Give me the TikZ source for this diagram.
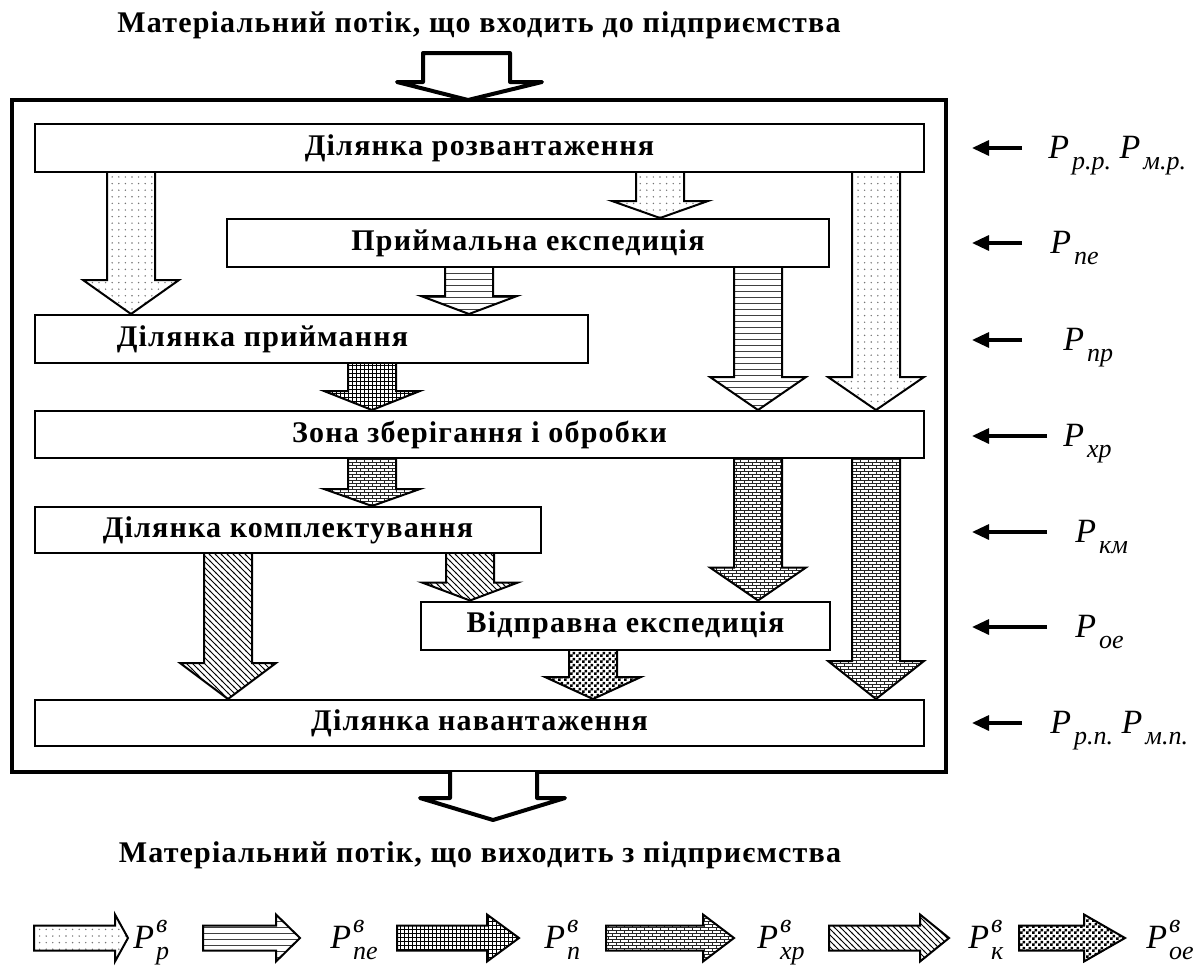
\documentclass[tikz,border=0pt]{standalone}
\usepackage{fontspec}
\setmainfont{Liberation Serif}
\newfontfamily\boxfont[LetterSpace=4]{Liberation Serif}
\usetikzlibrary{arrows.meta, calc, patterns}

% fill patterns of the flows
\pgfdeclarepatternformonly{flowdots}{\pgfpoint{-1pt}{-1pt}}{\pgfpoint{1pt}{1pt}}{\pgfpoint{3.3pt}{3.3pt}}{%
  \pgfpathcircle{\pgfpointorigin}{0.4pt}\pgfusepath{fill}}
\pgfdeclarepatternformonly{flowlines}{\pgfpoint{-1pt}{-0.5pt}}{\pgfpoint{4pt}{0.5pt}}{\pgfpoint{3pt}{3pt}}{%
  \pgfsetlinewidth{0.4pt}
  \pgfpathmoveto{\pgfpoint{-1pt}{0pt}}\pgfpathlineto{\pgfpoint{4pt}{0pt}}\pgfusepath{stroke}}
\pgfdeclarepatternformonly{flowgrid}{\pgfpoint{-1pt}{-1pt}}{\pgfpoint{3pt}{3pt}}{\pgfpoint{2pt}{2pt}}{%
  \pgfsetlinewidth{0.35pt}
  \pgfpathmoveto{\pgfpoint{0pt}{-1pt}}\pgfpathlineto{\pgfpoint{0pt}{3pt}}
  \pgfpathmoveto{\pgfpoint{-1pt}{0pt}}\pgfpathlineto{\pgfpoint{3pt}{0pt}}\pgfusepath{stroke}}
\pgfdeclarepatternformonly{flowbricks}{\pgfpoint{-0.5pt}{-0.5pt}}{\pgfpoint{4.5pt}{3.5pt}}{\pgfpoint{4pt}{3pt}}{%
  \pgfsetlinewidth{0.35pt}
  \pgfpathmoveto{\pgfpoint{-0.5pt}{0pt}}\pgfpathlineto{\pgfpoint{4.5pt}{0pt}}
  \pgfpathmoveto{\pgfpoint{-0.5pt}{1.5pt}}\pgfpathlineto{\pgfpoint{4.5pt}{1.5pt}}
  \pgfpathmoveto{\pgfpoint{0pt}{0pt}}\pgfpathlineto{\pgfpoint{0pt}{1.5pt}}
  \pgfpathmoveto{\pgfpoint{2pt}{1.5pt}}\pgfpathlineto{\pgfpoint{2pt}{3pt}}\pgfusepath{stroke}}
\pgfdeclarepatternformonly{flowdiag}{\pgfpoint{-0.5pt}{-0.5pt}}{\pgfpoint{3.5pt}{3.5pt}}{\pgfpoint{3pt}{3pt}}{%
  \pgfsetlinewidth{0.5pt}
  \pgfpathmoveto{\pgfpoint{-0.5pt}{3.5pt}}\pgfpathlineto{\pgfpoint{3.5pt}{-0.5pt}}\pgfusepath{stroke}}
\pgfdeclarepatternformonly{flowcheck}{\pgfpointorigin}{\pgfpoint{3pt}{3pt}}{\pgfpoint{3pt}{3pt}}{%
  \pgfpathrectangle{\pgfpointorigin}{\pgfpoint{1.5pt}{1.5pt}}
  \pgfpathrectangle{\pgfpoint{1.5pt}{1.5pt}}{\pgfpoint{1.5pt}{1.5pt}}\pgfusepath{fill}}

\tikzset{
  stage/.style={rectangle, draw, line width=1pt, minimum height=24pt, inner sep=0pt,
                font=\boxfont\bfseries\fontsize{15}{17}\selectfont},
  heading/.style={inner sep=0pt, font=\boxfont\bfseries\fontsize{15}{17}\selectfont},
  plant/.style={line width=2pt},
  bigflow/.style={draw, line width=2pt, fill=white, line join=round},
  flow/.style={draw, line width=1pt, line join=miter},
  fdots/.style={pattern=flowdots, pattern color=black!55},
  flines/.style={pattern=flowlines, pattern color=black!75},
  fgrid/.style={pattern=flowgrid, pattern color=black},
  fbricks/.style={pattern=flowbricks, pattern color=black!85},
  fdiag/.style={pattern=flowdiag, pattern color=black},
  fcheck/.style={pattern=flowcheck, pattern color=black},
  inarrow/.style={-{Triangle[length=8.5pt, width=7.5pt]}, line width=1.6pt},
  plab/.style={anchor=west, inner sep=0pt, text height=10pt, text depth=0pt,
               font=\fontsize{17}{17}\selectfont\itshape},
}

% #1 pattern, #2 x of the flow, #3 from, #4 to, #5 head length
\newcommand{\flowarrow}[5]{%
  \draw[flow,#1] let \p1=(#2,0), \p2=(#3.south), \p3=(#4.north) in
    (\x1-12pt,\y2) -- (\x1-12pt,\y3+#5pt) -- (\x1-24pt,\y3+#5pt) -- (\x1,\y3)
    -- (\x1+24pt,\y3+#5pt) -- (\x1+12pt,\y3+#5pt) -- (\x1+12pt,\y2);}
% legend arrow: #1 pattern, #2 tail, #3 head base, #4 tip
\newcommand{\keyarrow}[4]{%
  \draw[flow,#1] (#2,925.5) -- (#3,925.5) -- (#3,914.5) -- (#4,938)
    -- (#3,961.5) -- (#3,950.5) -- (#2,950.5) -- cycle;}
\newcommand{\pidx}[1]{P\kern1.5pt\raisebox{-5.5pt}{\fontsize{13}{13}\selectfont #1}}
\newcommand{\pkey}[1]{P\kern1pt\rlap{\raisebox{8pt}{\fontsize{13}{13}\selectfont в}}\raisebox{-5.5pt}{\fontsize{13}{13}\selectfont #1}}

\begin{document}
\begin{tikzpicture}[x=0.5pt, y=-0.5pt]
  \useasboundingbox (0,0) rectangle (1198,969);

  \node[heading] (intitle) at (479,25) {Матеріальний потік, що входить до підприємства};
  \node[heading] (outtitle) at (480,855) {Матеріальний потік, що виходить з підприємства};

  \draw[plant] (12,100) rectangle (946,772);
  \draw[bigflow] (423,53) -- (510,53) -- (510,82) -- (542,82) -- (468,100)
    -- (397,82) -- (423,82) -- cycle;
  \draw[bigflow] (450,772) -- (450,798) -- (420,798) -- (493,820) -- (565,798)
    -- (537,798) -- (537,772);

  % stages
  \node[stage, minimum width=444.5pt] (unload) at (479.5,148) {Ділянка розвантаження};
  \node[stage, minimum width=301pt] (recexp) at (528,243) {Приймальна експедиція};
  \node[stage, minimum width=276.5pt] (accept) at (311.5,339) {Ділянка приймання\hspace*{49pt}};
  \node[stage, minimum width=444.5pt, minimum height=23.5pt] (store) at (479.5,434.5) {Зона зберігання і обробки};
  \node[stage, minimum width=253pt, minimum height=23pt] (pick) at (288,530) {Ділянка комплектування};
  \node[stage, minimum width=204.5pt] (dispexp) at (625.5,625.5) {Відправна експедиція};
  \node[stage, minimum width=444.5pt, minimum height=23pt] (load) at (479.5,723) {Ділянка навантаження};

  % flows between stages
  \flowarrow{fdots}{131}{unload}{accept}{17}
  \flowarrow{fdots}{660}{unload}{recexp}{8.5}
  \flowarrow{flines}{469}{recexp}{accept}{9}
  \flowarrow{flines}{758}{recexp}{store}{16.5}
  \flowarrow{fdots}{876}{unload}{store}{16.5}
  \flowarrow{fgrid}{372}{accept}{store}{9.5}
  \flowarrow{fbricks}{372}{store}{pick}{8.5}
  \flowarrow{fbricks}{758}{store}{dispexp}{16.5}
  \flowarrow{fbricks}{876}{store}{load}{19}
  \flowarrow{fdiag}{228}{pick}{load}{18}
  \flowarrow{fdiag}{470}{pick}{dispexp}{9}
  \flowarrow{fcheck}{593}{dispexp}{load}{11}

  % parameters of the stages
  \node[plab] (pr1) at (1048,148) {\pidx{р.р.}\ \pidx{м.р.}};
  \node[plab] (pr2) at (1050,243) {\pidx{пе}};
  \node[plab] (pr3) at (1063,340) {\pidx{пр}};
  \node[plab] (pr4) at (1063,436) {\pidx{хр}};
  \node[plab] (pr5) at (1075,532) {\pidx{км}};
  \node[plab] (pr6) at (1075,627) {\pidx{ое}};
  \node[plab] (pr7) at (1050,723) {\pidx{р.п.}\ \pidx{м.п.}};
  \draw[inarrow] ([xshift=-13pt]pr1.west) -- ++(-50,0);
  \draw[inarrow] ([xshift=-14pt]pr2.west) -- ++(-50,0);
  \draw[inarrow] ([xshift=-20.5pt]pr3.west) -- ++(-50,0);
  \draw[inarrow] ([xshift=-8pt]pr4.west) -- ++(-75,0);
  \draw[inarrow] ([xshift=-14pt]pr5.west) -- ++(-75,0);
  \draw[inarrow] ([xshift=-14pt]pr6.west) -- ++(-75,0);
  \draw[inarrow] ([xshift=-14pt]pr7.west) -- ++(-50,0);

  % legend
  \keyarrow{fdots}{34}{115}{128}
  \keyarrow{flines}{203}{276}{300}
  \keyarrow{fgrid}{397}{487}{519}
  \keyarrow{fbricks}{606}{703}{734}
  \keyarrow{fdiag}{829}{920}{949}
  \keyarrow{fcheck}{1019}{1084}{1125}
  \node[plab] (k1) at (133,938) {\pkey{р}};
  \node[plab] (k2) at (330,938) {\pkey{пе}};
  \node[plab] (k3) at (544,938) {\pkey{п}};
  \node[plab] (k4) at (757,938) {\pkey{хр}};
  \node[plab] (k5) at (968,938) {\pkey{к}};
  \node[plab] (k6) at (1146,938) {\pkey{ое}};
\end{tikzpicture}
\end{document}
